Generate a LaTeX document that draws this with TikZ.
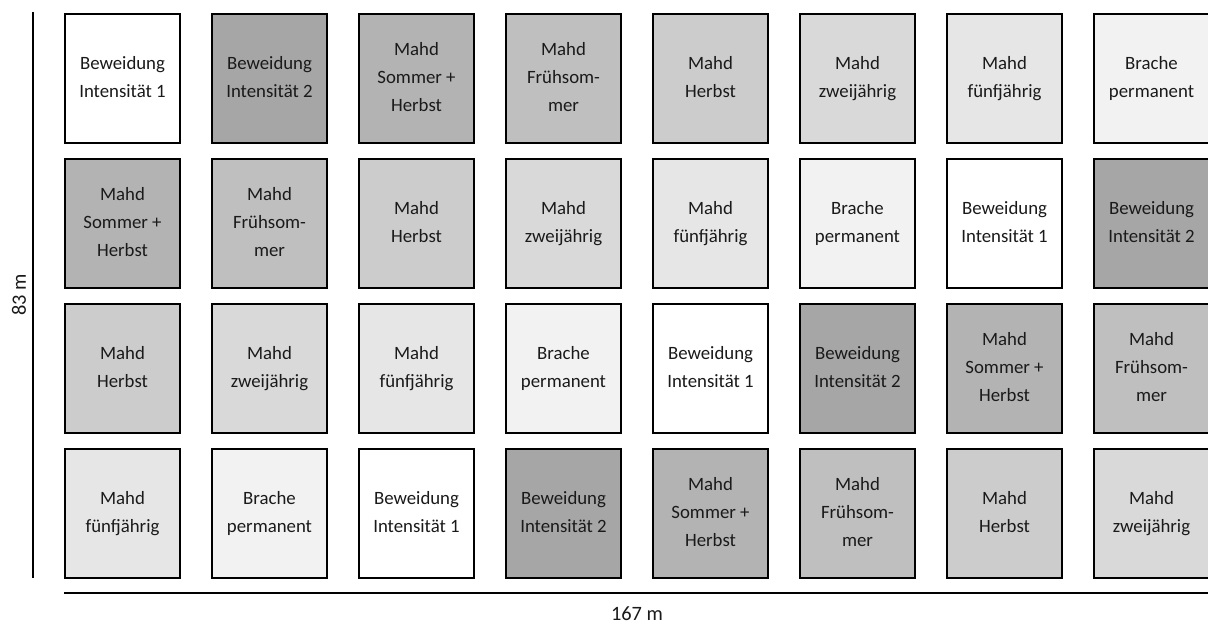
\documentclass[tikz,border=0pt]{standalone}
\usepackage{fontspec}
\setmainfont{Carlito}
\usepackage{tikz}
\usetikzlibrary{positioning}

% grey levels of the treatments
\definecolor{shade0}{HTML}{FFFFFF}
\definecolor{shade1}{HTML}{A6A6A6}
\definecolor{shade2}{HTML}{B3B3B3}
\definecolor{shade3}{HTML}{BFBFBF}
\definecolor{shade4}{HTML}{CCCCCC}
\definecolor{shade5}{HTML}{D9D9D9}
\definecolor{shade6}{HTML}{E6E6E6}
\definecolor{shade7}{HTML}{F2F2F2}
\definecolor{labeltext}{HTML}{1A1A1A}

\newcommand{\plottext}[1]{\ifcase#1 \strut Beweidung\\Intensität 1\strut\or
  \strut Beweidung\\Intensität 2\strut\or
  \strut Mahd\\Sommer +\\Herbst\strut\or
  \strut Mahd\\Frühsom-\\mer\strut\or
  \strut Mahd\\Herbst\strut\or
  \strut Mahd\\zweijährig\strut\or
  \strut Mahd\\fünfjährig\strut\or
  \strut Brache\\permanent\strut\fi}

\tikzset{
  plot/.style={draw, line width=1pt, minimum width=57.5pt, minimum height=64.5pt,
    inner sep=0pt, align=center, text=labeltext, font=\fontsize{9.4}{14}\selectfont},
  axis/.style={line width=1pt},
  dim/.style={text=labeltext, font=\fontsize{10.2}{12}\selectfont}
}

\begin{document}
\begin{tikzpicture}[x=0.5pt,y=-0.5pt]
    \useasboundingbox (0,0) rectangle (1208,623);

    % Plots
    \foreach \r in {0,...,3}{
        \foreach \c in {0,...,7}{
            \pgfmathtruncatemacro{\k}{mod(\c+2*\r,8)}
            \node[plot, fill=shade\k] (p\r\c) at (122.5+147*\c, 78+145*\r) {\plottext{\k}};
        }
    }

    % Dimensions
    \coordinate (vtop) at (33,12);
    \coordinate (vbot) at (33,578);
    \draw[axis] (vtop) -- (vbot);
    \node[dim, rotate=90] (height) at (19,295) {83 m};

    \coordinate (hleft) at (64,593);
    \coordinate (hright) at (1208,593);
    \draw[axis] (hleft) -- (hright);
    \node[dim] (width) at (637,614) {167 m};
\end{tikzpicture}
\end{document}
